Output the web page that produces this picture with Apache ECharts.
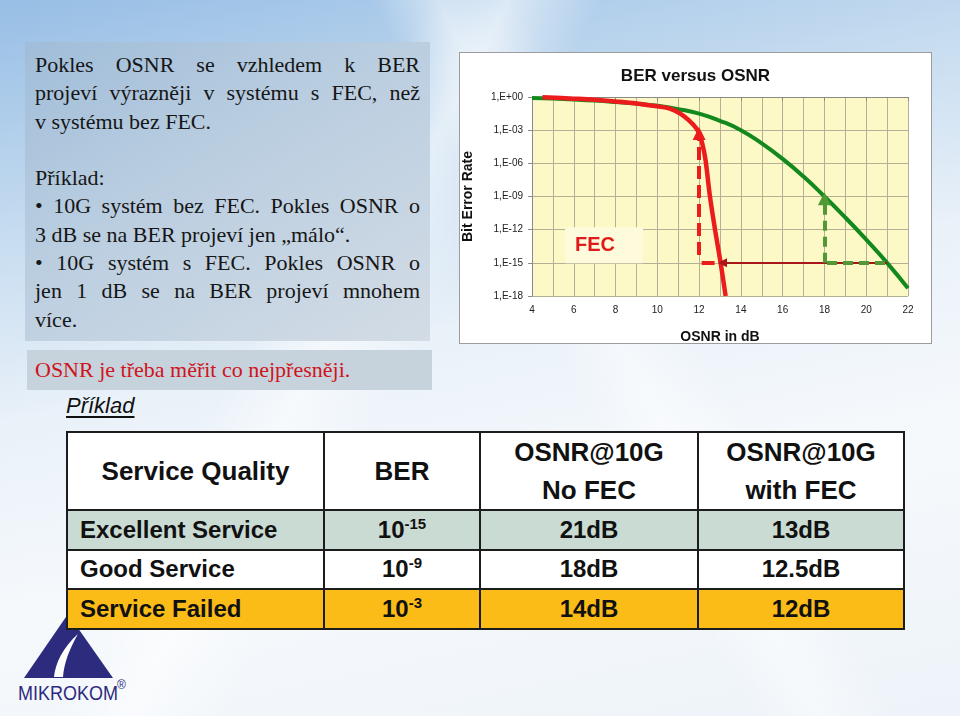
<!DOCTYPE html>
<html>
<head>
<meta charset="utf-8">
<script src="https://cdn.jsdelivr.net/npm/echarts@6/dist/echarts.min.js"></script>
<style>
html, body { margin: 0; padding: 0; }
body {
  width: 960px; height: 716px; position: relative; overflow: hidden;
  font-family: "Liberation Sans", Arial, sans-serif;
  background:
    linear-gradient(118deg, rgba(255,255,255,0) 32%, rgba(255,255,255,0.55) 38%, rgba(255,255,255,0) 45%),
    linear-gradient(62deg, rgba(255,255,255,0) 56%, rgba(255,255,255,0.45) 61%, rgba(255,255,255,0) 67%),
    linear-gradient(168deg, #97bee5 0%, #c3daef 24%, #e9f1f9 46%, #f6f9fc 68%, #edf3f9 100%);
}
.panel { position: absolute; font-family: "Liberation Serif", "Times New Roman", serif; color: #161616; }
#text1 {
  left: 25px; top: 42px; width: 405px; height: 299px; box-sizing: border-box;
  padding: 9px 10px 0 10px; font-size: 22px; line-height: 28.3px;
  background: linear-gradient(150deg, #a0bdd9 0%, #b9cde0 40%, #d3dce5 100%);
}
#text1 .ln { height: 28.3px; }
#text1 .j { text-align: justify; text-align-last: justify; }
#text2 {
  left: 27px; top: 350px; width: 405px; height: 40px; box-sizing: border-box;
  padding: 6px 0 0 8px; font-size: 22px; line-height: 28px; color: #d0141c;
  background: #c6d2dc;
}
#example {
  position: absolute; left: 66px; top: 393px; font-size: 22px; font-style: italic;
  text-decoration: underline; text-underline-offset: 3px; color: #111;
}
#chartWrap { position: absolute; left: 459px; top: 52px; width: 473px; height: 292px; background: #fff; }
#chart { width: 473px; height: 292px; }
#chartBorder { position: absolute; left: 459px; top: 52px; width: 473px; height: 292px; box-sizing: border-box; border: 1px solid #9c9c9c; pointer-events: none; }
#logo { position: absolute; left: 12px; top: 612px; }
#tbl {
  position: absolute; left: 66px; top: 431px; border-collapse: collapse; table-layout: fixed;
  font-weight: bold; color: #111; background: #fff;
}
#tbl td { border: 2px solid #1c1c1c; padding: 0; text-align: center; font-size: 24px; }
#tbl tr.head td { height: 74px; font-size: 26px; line-height: 38px; }
#tbl tr.row td { height: 37.5px; }
#tbl td.name { text-align: left; padding-left: 12px; }
#tbl tr.excellent td { background: #c9dbd3; }
#tbl tr.failed td { background: #fbbc17; }
#tbl sup { font-size: 15px; vertical-align: 9px; line-height: 0; }
</style>
</head>
<body>

<div class="panel" id="text1">
  <div class="ln j">Pokles OSNR se vzhledem k BER</div>
  <div class="ln j">projeví výrazněji v systému s FEC, než</div>
  <div class="ln">v systému bez FEC.</div>
  <div class="ln"></div>
  <div class="ln">Příklad:</div>
  <div class="ln j">• 10G systém bez FEC. Pokles OSNR o</div>
  <div class="ln">3 dB se na BER projeví jen „málo“.</div>
  <div class="ln j">• 10G systém s FEC. Pokles OSNR o</div>
  <div class="ln j">jen 1 dB se na BER projeví mnohem</div>
  <div class="ln">více.</div>
</div>

<div class="panel" id="text2">OSNR je třeba měřit co nejpřesněji.</div>
<div id="example">Příklad</div>

<svg id="logo" width="125" height="100" viewBox="0 0 125 100">
  <polygon points="12,66 56,2 101,66" fill="#2d2b7e"/>
  <path d="M66,22 C51,35 43,52 42,65 L51,65 C52,51 57,38 66,22 Z" fill="#fff"/>
  <text x="6" y="88" font-family="Liberation Sans, Arial" font-size="21" fill="#2d2b7e"
        textLength="100" lengthAdjust="spacingAndGlyphs">MIKROKOM</text>
  <text x="105" y="77" font-family="Liberation Sans, Arial" font-size="12" fill="#2d2b7e">®</text>
</svg>

<table id="tbl"></table>

<div id="chartWrap"><div id="chart"></div></div>
<div id="chartBorder"></div>

<script>
// BER curves, OSNR (dB) against log10(BER)
const osnrNoFec = [4, 5, 6, 7, 8, 9, 10, 11, 12, 13, 14, 15, 16, 17, 18, 19, 20, 21, 22];
const berExpNoFec = [-0.08, -0.14, -0.22, -0.32, -0.45, -0.6, -0.8, -1.1, -1.5, -2.15, -3.0, -4.2, -5.6, -7.2, -9.0, -10.9, -12.9, -15.0, -17.3];

const osnrFec = [4.5, 6, 7, 8, 9, 10, 10.6, 11.1, 11.5, 11.85, 12.0, 12.15, 12.3, 12.52, 12.78, 13.03, 13.27];
const berExpFec = [-0.02, -0.15, -0.25, -0.4, -0.58, -0.85, -1.05, -1.5, -2.1, -2.8, -3.3, -4.2, -5.6, -9.0, -12.2, -15.0, -18.0];

// guide lines drawn on the chart (start, end)
const fecUp = [[12, -14.3], [12, -3.3]];
const fecAcross = [[12.12, -15], [12.95, -15]];
const gainArrow = [[21, -15], [13.12, -15]];
const noFecAcross = [[20.9, -15], [18, -15]];
const noFecUp = [[18, -15], [18, -9.2]];
const fecLabelAt = [7.45, -13.4];

// table
const serviceQuality = ['Excellent Service', 'Good Service', 'Service Failed'];
const berExponent = [-15, -9, -3];
const osnrNoFecDb = ['21', '18', '14'];
const osnrWithFecDb = ['13', '12.5', '12'];
const rowClass = ['excellent', 'good', 'failed'];

const tbl = document.getElementById('tbl');
let html = '<colgroup><col style="width:257px"><col style="width:156px"><col style="width:218px"><col style="width:206px"></colgroup>';
html += '<tr class="head"><td>Service Quality</td><td>BER</td><td>OSNR@10G<br>No FEC</td><td>OSNR@10G<br>with FEC</td></tr>';
serviceQuality.forEach(function (name, i) {
    html += '<tr class="row ' + rowClass[i] + '"><td class="name">' + name + '</td>' +
        '<td>10<sup>' + berExponent[i] + '</sup></td>' +
        '<td>' + osnrNoFecDb[i] + 'dB</td>' +
        '<td>' + osnrWithFecDb[i] + 'dB</td></tr>';
});
tbl.innerHTML = html;

function pairs(xs, ys) {
    return xs.map(function (x, i) { return [x, ys[i]]; });
}

function guideSeries(segs, color, width, dash, arrowSize) {
    return {
        type: 'line',
        data: [],
        silent: true,
        markLine: {
            silent: true,
            animation: false,
            symbol: ['none', 'triangle'],
            symbolSize: arrowSize,
            label: { show: false },
            emphasis: { disabled: true },
            lineStyle: { color: color, width: width, type: dash },
            data: segs.map(function (s) {
                return [{ coord: s.seg[0], symbol: 'none' }, { coord: s.seg[1], symbol: s.arrow ? 'triangle' : 'none' }];
            })
        }
    };
}

const fontFam = '"Liberation Sans", Arial, sans-serif';
const gridColor = '#b3b095';

const chart = echarts.init(document.getElementById('chart'));
chart.setOption({
    animation: false,
    backgroundColor: '#fff',
    title: {
        text: 'BER versus OSNR',
        left: 'center',
        top: 11,
        textStyle: { fontFamily: fontFam, fontSize: 17, fontWeight: 'bold', color: '#111' }
    },
    grid: {
        left: 73, right: 24, top: 45, bottom: 48,
        show: true, backgroundColor: '#fdf9c6', borderWidth: 0,
        outerBoundsMode: 'none'
    },
    xAxis: {
        type: 'value', min: 4, max: 22, interval: 2,
        name: 'OSNR in dB', nameLocation: 'middle', nameGap: 34,
        nameTextStyle: { fontFamily: fontFam, fontSize: 14, fontWeight: 'bold', color: '#111' },
        axisLine: { show: true, lineStyle: { color: '#8a8a8a' } },
        axisTick: { show: true, length: 4, lineStyle: { color: '#8a8a8a' } },
        axisLabel: { fontFamily: fontFam, fontSize: 10, color: '#222', margin: 9 },
        splitLine: { show: true, lineStyle: { color: gridColor, width: 1 } },
        minorTick: { show: false, splitNumber: 2 },
        minorSplitLine: { show: true, lineStyle: { color: gridColor, width: 1 } }
    },
    yAxis: {
        type: 'value', min: -18, max: 0, interval: 3,
        name: 'Bit Error Rate', nameLocation: 'middle', nameGap: 57,
        nameTextStyle: { fontFamily: fontFam, fontSize: 14, fontWeight: 'bold', color: '#111' },
        axisLine: { show: true, lineStyle: { color: '#8a8a8a' } },
        axisTick: { show: true, length: 4, lineStyle: { color: '#8a8a8a' } },
        axisLabel: {
            fontFamily: fontFam, fontSize: 10, color: '#222', margin: 9,
            formatter: function (v) {
                return '1,E' + (v < 0 ? '-' : '+') + String(Math.abs(v)).padStart(2, '0');
            }
        },
        splitLine: { show: true, lineStyle: { color: gridColor, width: 1 } }
    },
    series: [
        guideSeries([{ seg: gainArrow, arrow: true }], '#a8161a', 2, 'solid', 9),
        guideSeries([{ seg: noFecAcross, arrow: false }, { seg: noFecUp, arrow: true }], '#4f9a35', 4, [10, 6], 13),
        guideSeries([{ seg: fecUp, arrow: true }, { seg: fecAcross, arrow: false }], '#ec1c1c', 4, [13, 6], 13),
        {
            type: 'line',
            name: 'no FEC',
            data: pairs(osnrNoFec, berExpNoFec),
            showSymbol: false,
            smooth: 0.5,
            silent: true,
            lineStyle: { color: '#13891d', width: 4 },
            markPoint: {
                silent: true,
                symbolSize: 0,
                data: [{ coord: fecLabelAt }],
                label: {
                    show: true,
                    formatter: 'FEC',
                    position: 'inside',
                    fontFamily: fontFam, fontSize: 20, fontWeight: 'bold', color: '#e01a1a',
                    backgroundColor: '#fdfbdc',
                    padding: [8, 28, 8, 10]
                }
            }
        },
        {
            type: 'line',
            name: 'FEC',
            data: pairs(osnrFec, berExpFec),
            showSymbol: false,
            smooth: 0.35,
            silent: true,
            lineStyle: { color: '#ec1c1c', width: 4.5 }
        }
    ]
});
</script>
</body>
</html>
